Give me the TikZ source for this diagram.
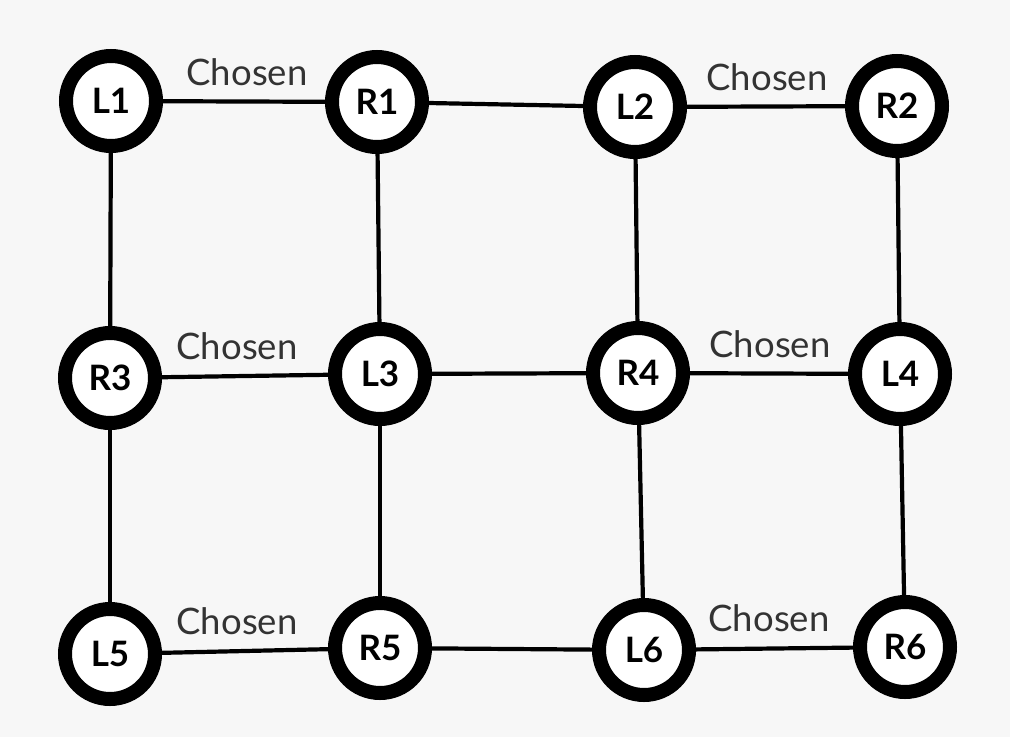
\documentclass[tikz,border=0pt]{standalone}
\usepackage{fontspec}
\setmainfont{Lato}
\begin{document}
\begin{tikzpicture}[x=1pt,y=-1pt,
  vert/.style={circle,draw=black,line width=14pt,fill=white,minimum size=90pt,inner sep=0pt,font=\fontsize{35}{35}\selectfont\bfseries},
  edge/.style={line width=4.2pt,black},
  lab/.style={text=black!80,font=\fontsize{36.5}{36.5}\selectfont,inner sep=0pt}]
\fill[black!3] (0,0) rectangle (1010,737);
\useasboundingbox (0,0) rectangle (1010,737);
\node[vert] (L1) at (111,101) {L1};
\node[vert] (R1) at (377,102) {R1};
\node[vert] (L2) at (635,107) {L2};
\node[vert] (R2) at (897,106) {R2};
\node[vert] (R3) at (110,378) {R3};
\node[vert] (L3) at (380,374) {L3};
\node[vert] (R4) at (638,373) {R4};
\node[vert] (L4) at (900,374) {L4};
\node[vert] (L5) at (110,654) {L5};
\node[vert] (R5) at (380,648) {R5};
\node[vert] (L6) at (644,650) {L6};
\node[vert] (R6) at (905,647) {R6};
\foreach \a/\b in {L1/R1,R1/L2,L2/R2,R3/L3,L3/R4,R4/L4,L5/R5,R5/L6,L6/R6,L1/R3,R3/L5,R1/L3,L3/R5,L2/R4,R4/L6,R2/L4,L4/R6}
  \draw[edge] (\a) -- (\b);
\node[lab] (c1) at (247,72) {Chosen};
\node[lab] (c2) at (767,77) {Chosen};
\node[lab] (c3) at (237,346) {Chosen};
\node[lab] (c4) at (770,344) {Chosen};
\node[lab] (c5) at (237,621) {Chosen};
\node[lab] (c6) at (769,618) {Chosen};
\end{tikzpicture}
\end{document}
